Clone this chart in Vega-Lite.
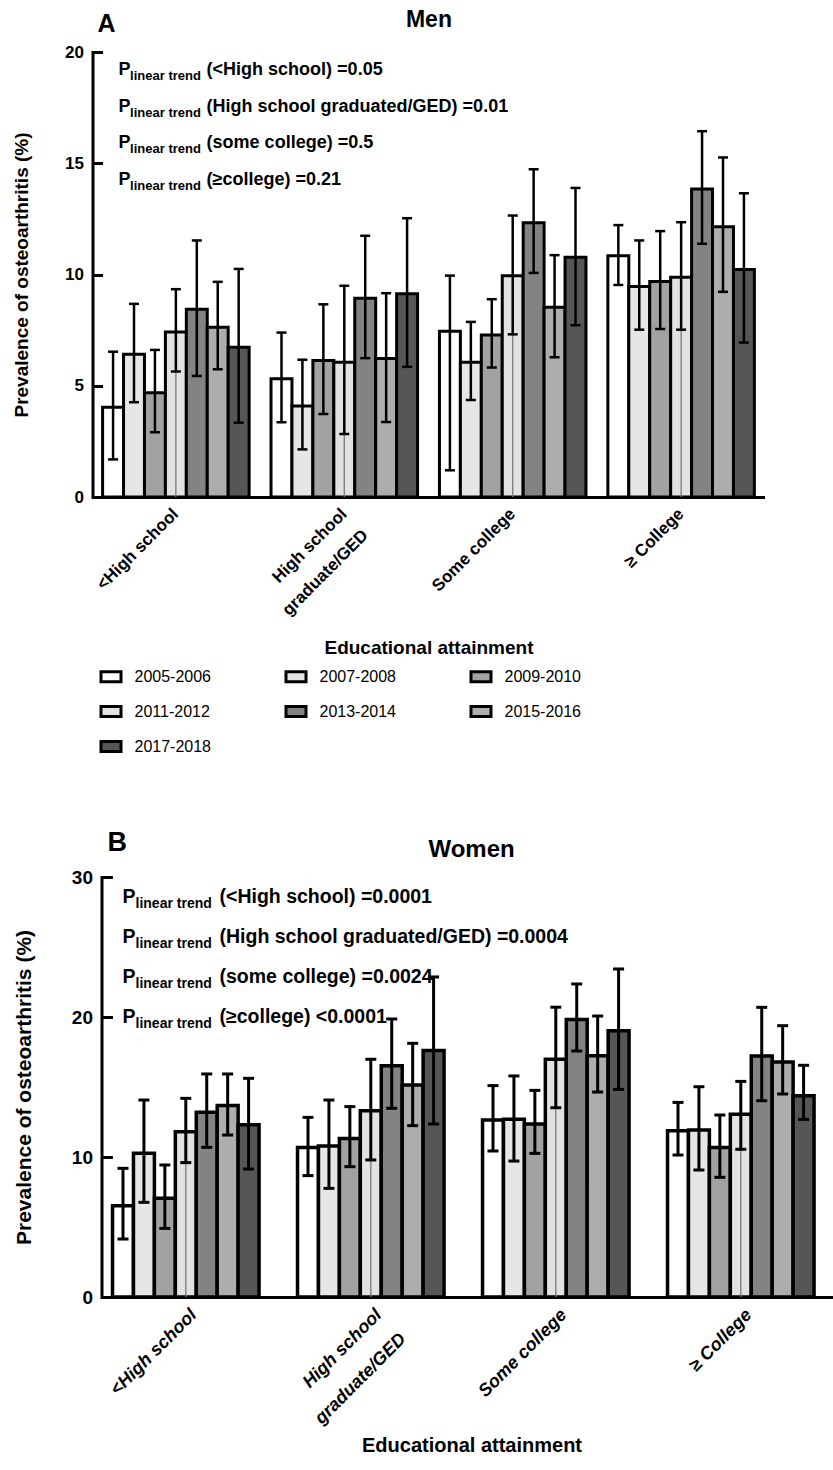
{
  "$schema": "https://vega.github.io/schema/vega-lite/v6.json",
  "background": "white",
  "padding": {"left": 12.5, "top": 8, "right": 0, "bottom": 0},
  "config": {
    "view": {"stroke": null},
    "font": "Liberation Sans",
    "axis": {"labelColor": "black", "titleColor": "black", "domainColor": "black", "tickColor": "black", "grid": false, "labelFont": "Liberation Sans", "titleFont": "Liberation Sans", "labelFontWeight": "bold", "titleFontWeight": "bold"},
    "text": {"font": "Liberation Sans", "fontWeight": "bold", "color": "black"}
  },
  "datasets": {
    "men": [
      {"edu": "<High school", "period": "2005-2006", "pct": 4.03, "lo": 1.69, "hi": 6.53},
      {"edu": "<High school", "period": "2007-2008", "pct": 6.42, "lo": 4.26, "hi": 8.68},
      {"edu": "<High school", "period": "2009-2010", "pct": 4.69, "lo": 2.91, "hi": 6.61},
      {"edu": "<High school", "period": "2011-2012", "pct": 7.42, "lo": 5.64, "hi": 9.34},
      {"edu": "<High school", "period": "2013-2014", "pct": 8.44, "lo": 5.44, "hi": 11.53},
      {"edu": "<High school", "period": "2015-2016", "pct": 7.63, "lo": 5.74, "hi": 9.67},
      {"edu": "<High school", "period": "2017-2018", "pct": 6.73, "lo": 3.34, "hi": 10.25},
      {"edu": "High school graduate/GED", "period": "2005-2006", "pct": 5.31, "lo": 3.36, "hi": 7.39},
      {"edu": "High school graduate/GED", "period": "2007-2008", "pct": 4.09, "lo": 2.14, "hi": 6.17},
      {"edu": "High school graduate/GED", "period": "2009-2010", "pct": 6.13, "lo": 3.73, "hi": 8.66},
      {"edu": "High school graduate/GED", "period": "2011-2012", "pct": 6.06, "lo": 2.83, "hi": 9.49},
      {"edu": "High school graduate/GED", "period": "2013-2014", "pct": 8.93, "lo": 6.24, "hi": 11.74},
      {"edu": "High school graduate/GED", "period": "2015-2016", "pct": 6.22, "lo": 3.37, "hi": 9.16},
      {"edu": "High school graduate/GED", "period": "2017-2018", "pct": 9.13, "lo": 5.85, "hi": 12.53},
      {"edu": "Some college", "period": "2005-2006", "pct": 7.45, "lo": 1.2, "hi": 9.95},
      {"edu": "Some college", "period": "2007-2008", "pct": 6.06, "lo": 4.36, "hi": 7.87},
      {"edu": "Some college", "period": "2009-2010", "pct": 7.28, "lo": 5.82, "hi": 8.89},
      {"edu": "Some college", "period": "2011-2012", "pct": 9.94, "lo": 7.31, "hi": 12.65},
      {"edu": "Some college", "period": "2013-2014", "pct": 12.33, "lo": 10.07, "hi": 14.73},
      {"edu": "Some college", "period": "2015-2016", "pct": 8.53, "lo": 6.28, "hi": 10.87},
      {"edu": "Some college", "period": "2017-2018", "pct": 10.78, "lo": 7.72, "hi": 13.89},
      {"edu": "≥ College", "period": "2005-2006", "pct": 10.84, "lo": 9.53, "hi": 12.22},
      {"edu": "≥ College", "period": "2007-2008", "pct": 9.46, "lo": 7.52, "hi": 11.53},
      {"edu": "≥ College", "period": "2009-2010", "pct": 9.68, "lo": 7.55, "hi": 11.95},
      {"edu": "≥ College", "period": "2011-2012", "pct": 9.88, "lo": 7.52, "hi": 12.35},
      {"edu": "≥ College", "period": "2013-2014", "pct": 13.84, "lo": 11.38, "hi": 16.44},
      {"edu": "≥ College", "period": "2015-2016", "pct": 12.15, "lo": 9.22, "hi": 15.26},
      {"edu": "≥ College", "period": "2017-2018", "pct": 10.22, "lo": 6.94, "hi": 13.65}
    ],
    "women": [
      {"edu": "<High school", "period": "2005-2006", "pct": 6.52, "lo": 4.14, "hi": 9.19},
      {"edu": "<High school", "period": "2007-2008", "pct": 10.26, "lo": 6.76, "hi": 14.07},
      {"edu": "<High school", "period": "2009-2010", "pct": 7.05, "lo": 4.9, "hi": 9.43},
      {"edu": "<High school", "period": "2011-2012", "pct": 11.81, "lo": 9.6, "hi": 14.19},
      {"edu": "<High school", "period": "2013-2014", "pct": 13.19, "lo": 10.69, "hi": 15.93},
      {"edu": "<High school", "period": "2015-2016", "pct": 13.67, "lo": 11.57, "hi": 15.93},
      {"edu": "<High school", "period": "2017-2018", "pct": 12.31, "lo": 9.14, "hi": 15.62},
      {"edu": "High school graduate/GED", "period": "2005-2006", "pct": 10.67, "lo": 8.67, "hi": 12.83},
      {"edu": "High school graduate/GED", "period": "2007-2008", "pct": 10.79, "lo": 7.76, "hi": 14.07},
      {"edu": "High school graduate/GED", "period": "2009-2010", "pct": 11.33, "lo": 9.31, "hi": 13.6},
      {"edu": "High school graduate/GED", "period": "2011-2012", "pct": 13.31, "lo": 9.79, "hi": 16.98},
      {"edu": "High school graduate/GED", "period": "2013-2014", "pct": 16.52, "lo": 13.48, "hi": 19.86},
      {"edu": "High school graduate/GED", "period": "2015-2016", "pct": 15.14, "lo": 12.24, "hi": 18.12},
      {"edu": "High school graduate/GED", "period": "2017-2018", "pct": 17.6, "lo": 12.36, "hi": 22.86},
      {"edu": "Some college", "period": "2005-2006", "pct": 12.64, "lo": 10.43, "hi": 15.1},
      {"edu": "Some college", "period": "2007-2008", "pct": 12.69, "lo": 9.71, "hi": 15.79},
      {"edu": "Some college", "period": "2009-2010", "pct": 12.36, "lo": 10.26, "hi": 14.76},
      {"edu": "Some college", "period": "2011-2012", "pct": 16.98, "lo": 13.52, "hi": 20.7},
      {"edu": "Some college", "period": "2013-2014", "pct": 19.83, "lo": 17.57, "hi": 22.36},
      {"edu": "Some college", "period": "2015-2016", "pct": 17.24, "lo": 14.64, "hi": 20.07},
      {"edu": "Some college", "period": "2017-2018", "pct": 19.02, "lo": 14.83, "hi": 23.43},
      {"edu": "≥ College", "period": "2005-2006", "pct": 11.88, "lo": 10.14, "hi": 13.9},
      {"edu": "≥ College", "period": "2007-2008", "pct": 11.93, "lo": 9.07, "hi": 15.02},
      {"edu": "≥ College", "period": "2009-2010", "pct": 10.67, "lo": 8.55, "hi": 13.0},
      {"edu": "≥ College", "period": "2011-2012", "pct": 13.05, "lo": 10.55, "hi": 15.4},
      {"edu": "≥ College", "period": "2013-2014", "pct": 17.21, "lo": 14.02, "hi": 20.69},
      {"edu": "≥ College", "period": "2015-2016", "pct": 16.79, "lo": 14.5, "hi": 19.38},
      {"edu": "≥ College", "period": "2017-2018", "pct": 14.38, "lo": 12.69, "hi": 16.55}
    ],
    "menTrend": [
      {"line": 1, "test": "(<High school) =0.05"},
      {"line": 2, "test": "(High school graduated/GED) =0.01"},
      {"line": 3, "test": "(some college) =0.5"},
      {"line": 4, "test": "(≥college) =0.21"}
    ],
    "womenTrend": [
      {"line": 1, "test": "(<High school) =0.0001"},
      {"line": 2, "test": "(High school graduated/GED) =0.0004"},
      {"line": 3, "test": "(some college) =0.0024"},
      {"line": 4, "test": "(≥college) <0.0001"}
    ],
    "one": [{}]
  },
  "concat": [
    {
      "width": 672,
      "height": 445,
      "resolve": {"scale": {"y": "independent"}},
      "layer": [
        {
          "data": {"name": "men"},
          "encoding": {
            "x": {
              "field": "edu", "type": "nominal", "title": "Educational attainment",
              "sort": ["<High school", "High school graduate/GED", "Some college", "≥ College"],
              "scale": {"paddingInner": 0.13, "paddingOuter": 0.06},
              "axis": {
                "ticks": false, "domainWidth": 3, "labelAngle": -45, "labelAlign": "right", "labelBaseline": "middle",
                "labelPadding": 14, "labelFontSize": 17, "labelLineHeight": 30, "labelLimit": 300,
                "labelExpr": "datum.label == 'High school graduate/GED' ? ['High school', 'graduate/GED'] : datum.label",
                "titleFontSize": 19, "titlePadding": 20
              }
            },
            "xOffset": {
              "field": "period", "type": "nominal",
              "scale": {"domain": ["2005-2006", "2007-2008", "2009-2010", "2011-2012", "2013-2014", "2015-2016", "2017-2018"], "paddingInner": 0, "paddingOuter": 0}
            }
          },
          "layer": [
            {
              "mark": {"type": "bar", "stroke": "black", "strokeWidth": 3},
              "encoding": {
                "y": {
                  "field": "pct", "type": "quantitative", "title": "Prevalence of osteoarthritis (%)",
                  "scale": {"domain": [0, 20], "nice": false},
                  "axis": {
                    "values": [0, 5, 10, 15, 20], "tickSize": -10, "tickWidth": 3, "domainWidth": 3, "domainCap": "square",
                    "labelPadding": 19, "labelFontSize": 17, "titleFontSize": 19,
                    "titleX": -71, "titleBaseline": "middle"
                  }
                },
                "fill": {
                  "field": "period", "type": "nominal",
                  "scale": {
                    "domain": ["2005-2006", "2007-2008", "2009-2010", "2011-2012", "2013-2014", "2015-2016", "2017-2018"],
                    "range": ["#ffffff", "#e6e6e6", "#a2a2a2", "#e2e2e2", "#838383", "#adadad", "#565656"]
                  },
                  "legend": {
                    "title": null, "orient": "none", "legendX": 7, "legendY": 613, "columns": 3, "direction": "horizontal", "padding": 0,
                    "symbolType": "M-1,-0.5H1V0.5H-1Z", "symbolSize": 400, "symbolStrokeColor": "black", "symbolStrokeWidth": 3,
                    "labelFont": "Liberation Sans", "labelFontSize": 16, "labelColor": "black",
                    "labelOffset": 12, "columnPadding": 68, "rowPadding": 12
                  }
                }
              }
            },
            {
              "transform": [{"filter": "datum.period === '2011-2012'"}],
              "mark": {"type": "rule", "color": "#7a7a7a", "strokeWidth": 1.3},
              "encoding": {"y": {"field": "pct", "type": "quantitative"}, "y2": {"datum": 0}}
            },
            {
              "mark": {"type": "rule", "color": "black", "strokeWidth": 2.5},
              "encoding": {"y": {"field": "lo", "type": "quantitative"}, "y2": {"field": "hi"}}
            },
            {
              "mark": {"type": "tick", "color": "black", "thickness": 2.5, "size": 10, "opacity": 1},
              "encoding": {"y": {"field": "hi", "type": "quantitative"}}
            },
            {
              "mark": {"type": "tick", "color": "black", "thickness": 2.5, "size": 10, "opacity": 1},
              "encoding": {"y": {"field": "lo", "type": "quantitative"}}
            },
            {
              "data": {"name": "one"},
              "mark": {"type": "text", "text": "A", "fontSize": 25, "align": "left", "baseline": "alphabetic", "dx": -5},
              "encoding": {"x": {"datum": "<High school"}, "y": {"datum": 20.91}, "xOffset": {"value": 0}}
            },
            {
              "data": {"name": "one"},
              "mark": {"type": "text", "text": "Men", "fontSize": 23, "align": "center", "baseline": "alphabetic", "dx": -10.5},
              "encoding": {"x": {"datum": "Some college"}, "y": {"datum": 21.13}, "xOffset": {"value": 0}}
            }
          ]
        },
        {
          "data": {"name": "menTrend"},
          "encoding": {
            "x": {"datum": "<High school", "bandPosition": 0},
            "y": {"field": "line", "type": "ordinal", "scale": {"type": "point", "range": [23, 133], "padding": 0}, "axis": null}
          },
          "layer": [
            {"mark": {"type": "text", "text": "P", "fontSize": 18, "align": "left", "baseline": "alphabetic", "dx": 16}},
            {"mark": {"type": "text", "text": "linear trend", "fontSize": 13, "align": "left", "baseline": "alphabetic", "dx": 27.5, "dy": 5}},
            {"mark": {"type": "text", "fontSize": 18, "align": "left", "baseline": "alphabetic", "dx": 104}, "encoding": {"text": {"field": "test"}}}
          ]
        }
      ]
    },
    {
      "width": 740,
      "height": 420,
      "resolve": {"scale": {"y": "independent"}},
      "layer": [
        {
          "data": {"name": "women"},
          "encoding": {
            "x": {
              "field": "edu", "type": "nominal", "title": "Educational attainment",
              "sort": ["<High school", "High school graduate/GED", "Some college", "≥ College"],
              "scale": {"paddingInner": 0.119, "paddingOuter": 0.0595, "align": 0.91},
              "axis": {
                "ticks": false, "domainWidth": 3, "domainCap": "butt", "domainDash": [0, 9, 731, 0],
                "labelAngle": -45, "labelAlign": "right", "labelBaseline": "middle",
                "labelPadding": 15, "labelFontSize": 18, "labelFontStyle": "italic", "labelLineHeight": 34, "labelLimit": 300,
                "labelExpr": "datum.label == 'High school graduate/GED' ? ['High school', 'graduate/GED'] : datum.label",
                "titleFontSize": 20, "titlePadding": 8, "titleX": 379
              }
            },
            "xOffset": {
              "field": "period", "type": "nominal",
              "scale": {"domain": ["2005-2006", "2007-2008", "2009-2010", "2011-2012", "2013-2014", "2015-2016", "2017-2018"], "paddingInner": 0, "paddingOuter": 0}
            }
          },
          "layer": [
            {
              "mark": {"type": "bar", "stroke": "black", "strokeWidth": 3.5},
              "encoding": {
                "y": {
                  "field": "pct", "type": "quantitative", "title": "Prevalence of osteoarthritis (%)",
                  "scale": {"domain": [0, 30], "nice": false},
                  "axis": {
                    "values": [0, 10, 20, 30], "offset": -9, "tickSize": -11, "tickWidth": 3, "domainWidth": 3, "domainCap": "square",
                    "labelPadding": 20, "labelFontSize": 19, "titleFontSize": 21,
                    "titleX": -77, "titleBaseline": "middle"
                  }
                },
                "fill": {
                  "field": "period", "type": "nominal",
                  "scale": {
                    "domain": ["2005-2006", "2007-2008", "2009-2010", "2011-2012", "2013-2014", "2015-2016", "2017-2018"],
                    "range": ["#ffffff", "#e6e6e6", "#a2a2a2", "#e2e2e2", "#838383", "#adadad", "#565656"]
                  },
                  "legend": null
                }
              }
            },
            {
              "transform": [{"filter": "datum.period === '2011-2012'"}],
              "mark": {"type": "rule", "color": "#7a7a7a", "strokeWidth": 1.3},
              "encoding": {"y": {"field": "pct", "type": "quantitative"}, "y2": {"datum": 0}}
            },
            {
              "mark": {"type": "rule", "color": "black", "strokeWidth": 3},
              "encoding": {"y": {"field": "lo", "type": "quantitative"}, "y2": {"field": "hi"}}
            },
            {
              "mark": {"type": "tick", "color": "black", "thickness": 3, "size": 11, "opacity": 1},
              "encoding": {"y": {"field": "hi", "type": "quantitative"}}
            },
            {
              "mark": {"type": "tick", "color": "black", "thickness": 3, "size": 11, "opacity": 1},
              "encoding": {"y": {"field": "lo", "type": "quantitative"}}
            },
            {
              "data": {"name": "one"},
              "mark": {"type": "text", "text": "B", "fontSize": 27, "align": "left", "baseline": "alphabetic", "dx": -5},
              "encoding": {"x": {"datum": "<High school"}, "y": {"datum": 31.86}, "xOffset": {"value": 0}}
            },
            {
              "data": {"name": "one"},
              "mark": {"type": "text", "text": "Women", "fontSize": 24, "align": "center", "baseline": "alphabetic", "dx": -11},
              "encoding": {"x": {"datum": "Some college"}, "y": {"datum": 31.43}, "xOffset": {"value": 0}}
            }
          ]
        },
        {
          "data": {"name": "womenTrend"},
          "encoding": {
            "x": {"datum": "<High school", "bandPosition": 0},
            "y": {"field": "line", "type": "ordinal", "scale": {"type": "point", "range": [26, 146], "padding": 0}, "axis": null}
          },
          "layer": [
            {"mark": {"type": "text", "text": "P", "fontSize": 19.5, "align": "left", "baseline": "alphabetic", "dx": 10}},
            {"mark": {"type": "text", "text": "linear trend", "fontSize": 14, "align": "left", "baseline": "alphabetic", "dx": 23, "dy": 5}},
            {"mark": {"type": "text", "fontSize": 19.5, "align": "left", "baseline": "alphabetic", "dx": 107}, "encoding": {"text": {"field": "test"}}}
          ]
        }
      ]
    }
  ],
  "columns": 1,
  "align": "none",
  "spacing": 170
}
